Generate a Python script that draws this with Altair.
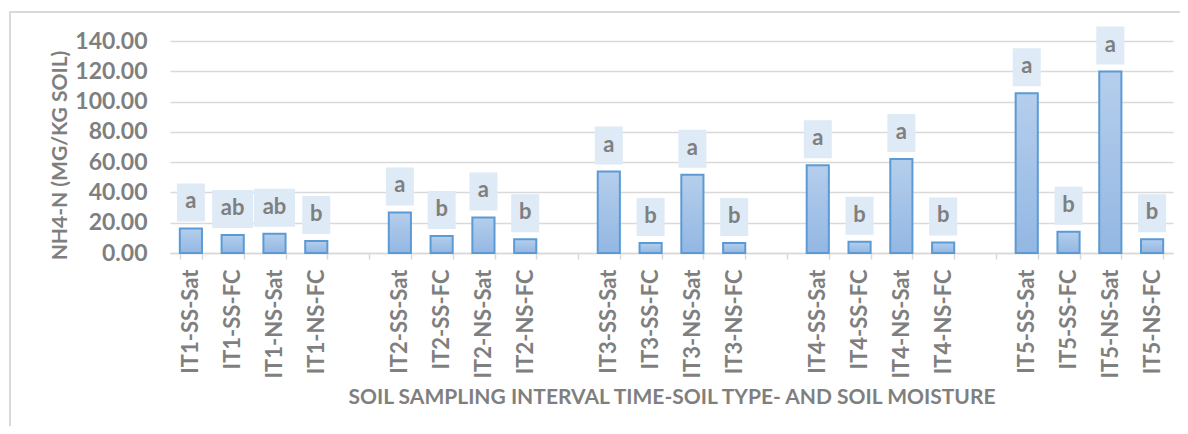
import altair as alt
import pandas as pd

categories = [
    "IT1-SS-Sat", "IT1-SS-FC", "IT1-NS-Sat", "IT1-NS-FC",
    "IT2-SS-Sat", "IT2-SS-FC", "IT2-NS-Sat", "IT2-NS-FC",
    "IT3-SS-Sat", "IT3-SS-FC", "IT3-NS-Sat", "IT3-NS-FC",
    "IT4-SS-Sat", "IT4-SS-FC", "IT4-NS-Sat", "IT4-NS-FC",
    "IT5-SS-Sat", "IT5-SS-FC", "IT5-NS-Sat", "IT5-NS-FC",
]
values = [16.2, 11.9, 12.7, 7.9,
          26.8, 11.2, 23.5, 9.0,
          53.8, 6.6, 51.6, 6.6,
          58.0, 7.5, 62.0, 7.0,
          105.5, 14.1, 119.8, 9.0]
letters = ["a", "ab", "ab", "b",
           "a", "b", "a", "b",
           "a", "b", "a", "b",
           "a", "b", "a", "b",
           "a", "b", "a", "b"]
gaps = ["gap1", "gap2", "gap3", "gap4"]
x_order = (categories[0:4] + [gaps[0]] + categories[4:8] + [gaps[1]] +
           categories[8:12] + [gaps[2]] + categories[12:16] + [gaps[3]] + categories[16:20])
y_ticks = [0, 20, 40, 60, 80, 100, 120, 140]

df = pd.DataFrame({"cat": categories, "val": values, "lab": letters})

FONT = "Lato"
GRAY = "#7F7F7F"
GRID = "#D9D9D9"

xscale = alt.Scale(domain=x_order, paddingInner=0.47, paddingOuter=0.235)
yscale = alt.Scale(domain=[0, 140], nice=False, zero=True)

xenc = alt.X("cat:N", scale=xscale, sort=x_order, title="SOIL SAMPLING INTERVAL TIME-SOIL TYPE- AND SOIL MOISTURE",
             axis=alt.Axis(labelAngle=-90, labelExpr="indexof(datum.label, 'gap') == 0 ? '' : datum.label",
                           tickBand="extent", tickSize=6, tickColor=GRID, domainColor=GRID, domainWidth=1.5,
                           tickWidth=1.5, labelPadding=10, labelFont=FONT, labelFontSize=22, labelFontWeight="bold",
                           labelColor=GRAY, labelOverlap=False, labelLimit=0,
                           titleFont=FONT, titleFontSize=21, titleFontWeight="bold",
                           titleColor=GRAY, titleY=150, titleBaseline="alphabetic", grid=False))
yenc = alt.Y("val:Q", scale=yscale, title="NH4-N (MG/KG SOIL)",
             axis=alt.Axis(values=y_ticks, tickCount=8, format=".2f", ticks=False, tickSize=0, domain=False,
                           grid=True, gridColor=GRID, gridWidth=1.5, labelPadding=23, labelOverlap=False,
                           labelFont=FONT, labelFontSize=23, labelFontWeight="bold", labelColor=GRAY,
                           titleFont=FONT, titleFontSize=21, titleFontWeight="bold", titleColor=GRAY,
                           titleX=-110, titleY=114, titleBaseline="middle", titleAlign="center"))

grad = alt.Gradient(gradient="linear",
                    stops=[alt.GradientStop(color="#B5CEEC", offset=0),
                           alt.GradientStop(color="#93B7E3", offset=1)],
                    x1=0, x2=0, y1=0, y2=1)

base = alt.Chart(df).encode(x=xenc, y=yenc)

frame = base.mark_rect(fill=None, stroke=GRID, strokeWidth=1.5, clip=False).encode(
    x=alt.value(-160), x2=alt.value(1030), y=alt.value(-29), y2=alt.value(400)
)

bars = base.mark_bar(fill=grad, stroke="#5B9BD5", strokeWidth=2)

boxes = base.transform_calculate(
    bw="length(datum.lab) == 1 ? 28 : 41"
).mark_bar(fill="#DEEAF6", yOffset=-7, y2Offset=-45).encode(
    y2=alt.Y2("val:Q"),
    size=alt.Size("bw:Q", scale=None),
)

texts = base.mark_text(font=FONT, fontSize=22, fontWeight="bold", color=GRAY,
                       baseline="middle", align="center", yOffset=-27).encode(
    text="lab:N",
)

chart = alt.layer(bars, boxes, texts, frame).properties(
    width=1003, height=212,
    autosize=alt.AutoSizeParams(type="none"),
    padding={"left": 162, "top": 33, "right": 7, "bottom": 173},
).configure_view(stroke=None)

chart.save("out.html", embed_options={"renderer": "svg", "actions": False})
